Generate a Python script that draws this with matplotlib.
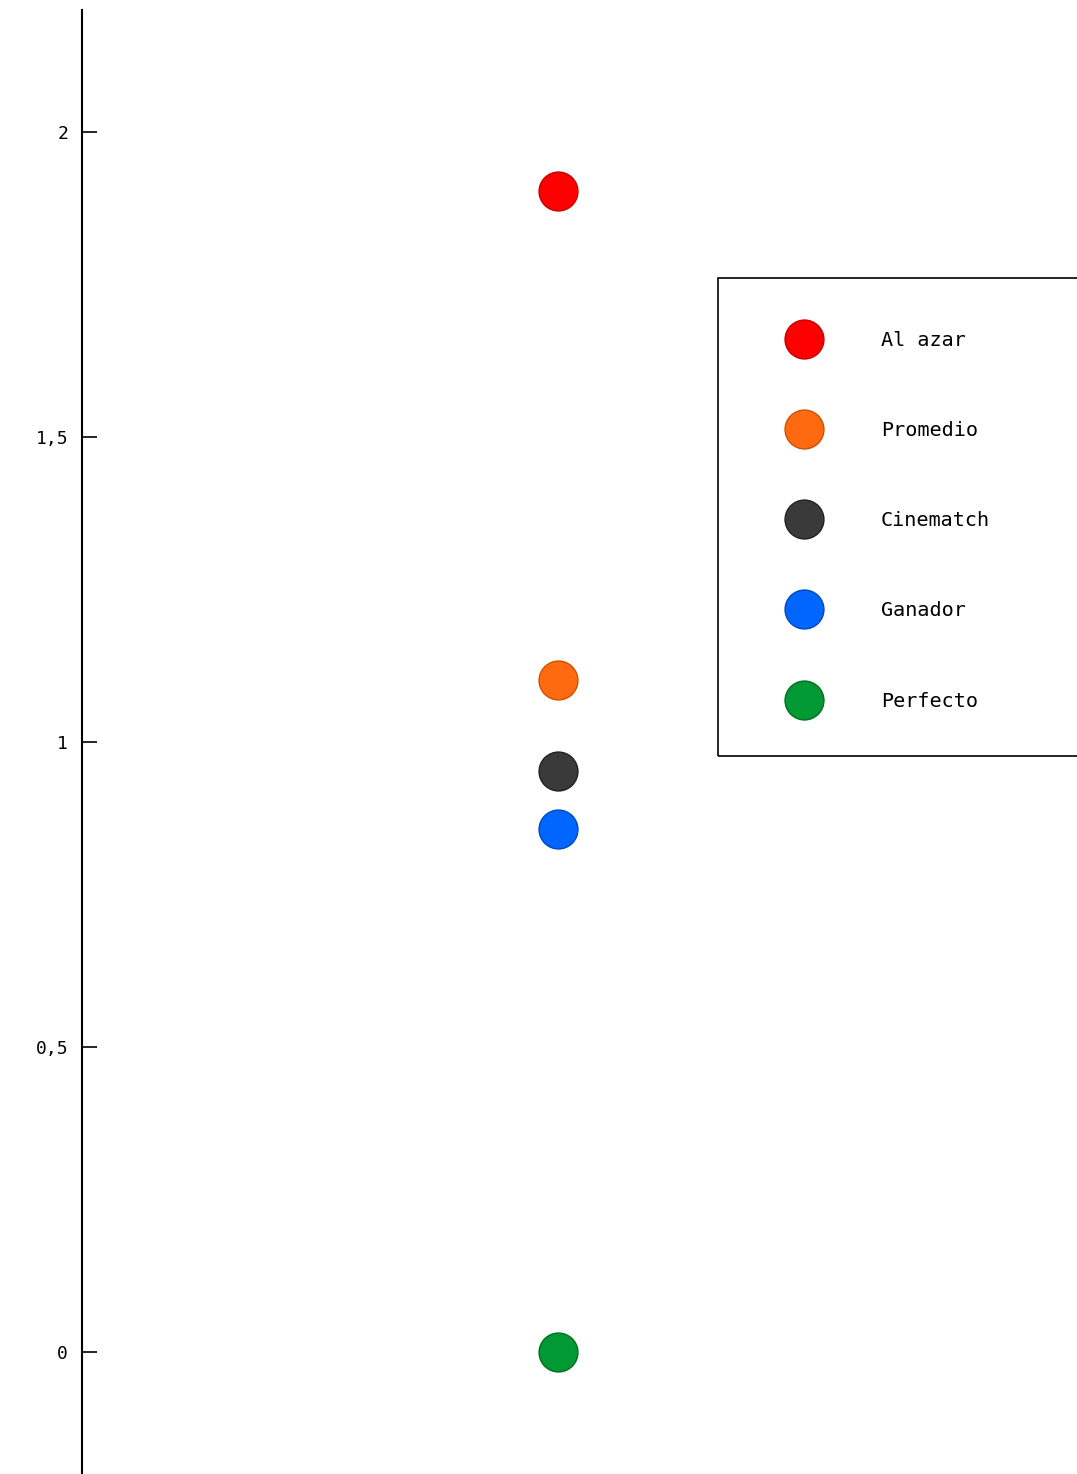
import matplotlib.pyplot as plt
from matplotlib.patches import Rectangle

# Netflix RMSE comparacion
labels = ['Al azar', 'Promedio', 'Cinematch', 'Ganador', 'Perfecto']
values = [1.903, 1.101, 0.952, 0.857, 0.0]
colors = ['#ff0000', '#ff6a10', '#3a3a3a', '#0066ff', '#009933']
edges = ['#c80000', '#d05000', '#222222', '#0048c0', '#007020']
yticks = [0, 0.5, 1, 1.5, 2]
yticklabels = ['0', '0,5', '1', '1,5', '2']

W, H = 1077, 1474
fig = plt.figure(figsize=(W / 100, H / 100), dpi=100)
ax = fig.add_axes([82 / W, 0, (1034 - 82) / W, 1 - 10 / H])

for lab, v, c, e in zip(labels, values, colors, edges):
    ax.plot([1], [v], 'o', color=c, markeredgecolor=e, markersize=28,
            markeredgewidth=1, label=lab, linestyle='none')

ax.set_xlim(0, 2)
ax.set_ylim(-0.2, 2.2)
ax.set_yticks(yticks)
ax.set_yticklabels(yticklabels, family='DejaVu Sans Mono', fontsize=13)
ax.tick_params(axis='y', direction='in', length=11, width=1.2, pad=10)
ax.set_xticks([])
for s in ['top', 'right', 'bottom']:
    ax.spines[s].set_visible(False)
ax.spines['left'].set_linewidth(1.5)

# legend frame (cut off on the right)
fig.patches.append(Rectangle((718 / W, 1 - 756 / H), 400 / W, (756 - 278) / H,
                             transform=fig.transFigure, fill=False,
                             edgecolor='black', linewidth=1.2))
leg = fig.legend(loc='upper left', bbox_to_anchor=(718 / W, 1 - 278 / H),
                 frameon=False, prop={'family': 'DejaVu Sans Mono', 'size': 14.5},
                 borderpad=2.11, labelspacing=3.54, handlelength=3.32,
                 handletextpad=2.17, markerscale=1.0)

fig.savefig('out.png', dpi=100)
